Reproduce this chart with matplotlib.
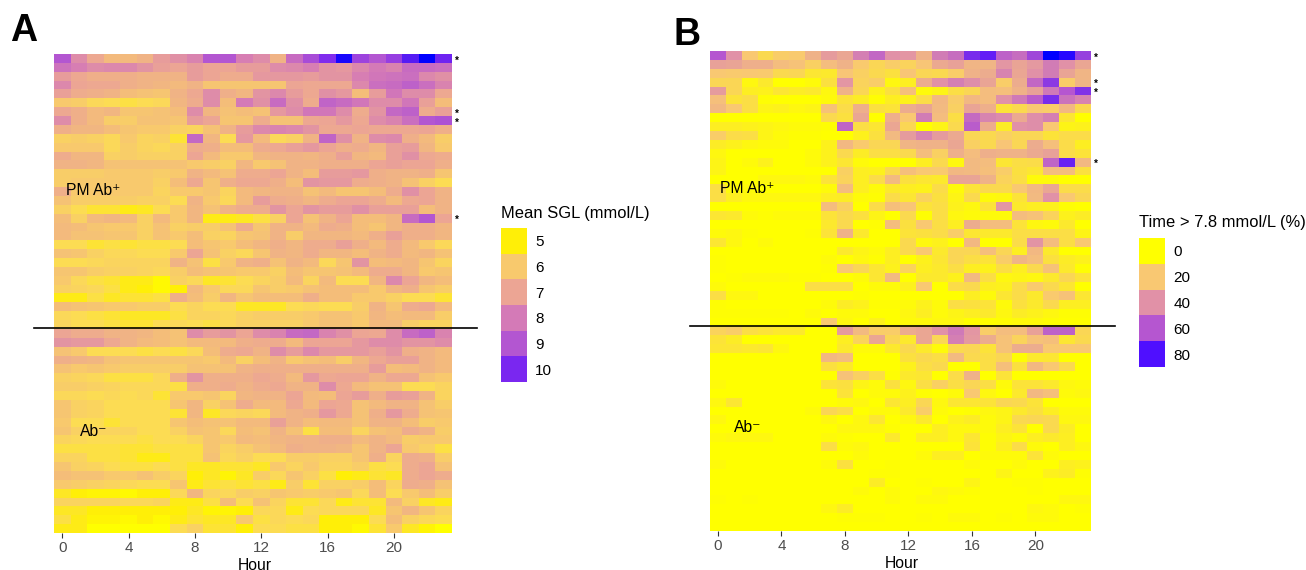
import numpy as np
import matplotlib
matplotlib.use("Agg")
import matplotlib.pyplot as plt
from matplotlib.colors import LinearSegmentedColormap, Normalize
from matplotlib.lines import Line2D

plt.rcParams['font.family'] = ['Liberation Sans', 'DejaVu Sans']

W, H = 1306, 570

hour_ticks = [0, 4, 8, 12, 16, 20]

# panel A, mean SGL, one list per row
sgl_pm = [
    [9, 7.6, 6.9, 6.4, 6.4, 6.6, 7.2, 7.5, 7.8, 9, 9, 7.9, 7.6, 6.6, 8.4, 9.2, 9.9, 10.8, 9.4, 9, 9.5, 10.3, 11, 10.1],
    [8.2, 7.9, 7.6, 7.7, 7.7, 7.4, 7.1, 7, 7.2, 7, 7, 7.2, 7.2, 7.6, 7.7, 7.9, 7.4, 7.3, 7.7, 8, 7.8, 8.4, 8.4, 8.3],
    [7.2, 6.9, 6.7, 6.7, 6.7, 6.6, 6.6, 6.6, 7.2, 7, 6.8, 6.8, 7.3, 7.3, 7.3, 7.2, 7.4, 7.4, 7.9, 8.1, 8.2, 8.3, 7.7, 7.5],
    [7.7, 7, 6.9, 6.9, 6.7, 6.6, 6.5, 6.4, 6.6, 6.1, 6.1, 6.1, 6.1, 6.1, 7, 6.9, 6.9, 6.9, 7.7, 8.3, 8.4, 8.7, 8.3, 7.8],
    [7.1, 6.8, 6.7, 6.6, 6.3, 6.2, 6.1, 6.6, 6.9, 7.6, 6.7, 6.5, 7.4, 7.7, 7.2, 6.9, 7.5, 7.3, 6.3, 7.2, 8.1, 7.6, 7.6, 6.9],
    [6, 5.9, 5.6, 5.5, 5.4, 5.5, 5.6, 6.5, 6.8, 7.6, 6.3, 8, 7.5, 8.4, 7.5, 6.8, 8.6, 8.4, 8.1, 7.6, 7.6, 8.1, 7.1, 6.3],
    [6.9, 6.7, 6.4, 6.5, 6.1, 6.1, 6.2, 6.3, 7.6, 6.5, 6.2, 6.3, 6.2, 7.3, 7.6, 8.1, 8.1, 7.6, 6.8, 7.4, 8.5, 8.7, 6.8, 7.1],
    [7.6, 6.7, 6.4, 5.9, 5.9, 6.2, 6.2, 6.1, 7.2, 7, 6.1, 6.1, 6.8, 6.2, 6.2, 6.9, 7, 7.3, 6.9, 7.6, 7.8, 8.3, 9, 9.1],
    [6.7, 6.5, 6.5, 6.3, 6.1, 6, 6, 5.8, 5.7, 6.2, 6.6, 7.2, 7.7, 7.8, 7.7, 7.4, 6.9, 6.9, 7, 6.9, 6.9, 6.9, 7, 6.7],
    [5.8, 5.9, 5.8, 5.6, 6, 5.7, 5.8, 5.3, 8.5, 6.5, 5.5, 7.3, 6.4, 5.6, 5.8, 6.6, 8.6, 7.5, 6.6, 7.6, 7.7, 6.7, 6.4, 5.9],
    [6, 6, 6, 5.6, 5.9, 5.7, 5.6, 5.8, 6.8, 6.7, 6.3, 6.3, 6.8, 6.9, 7.1, 7.3, 7, 6.7, 6.8, 6.5, 7.1, 7.2, 6.5, 6],
    [6.8, 6.5, 6.5, 5.8, 5.9, 5.8, 5.8, 5.8, 7, 6.4, 6, 6, 6.5, 6.6, 6.6, 6.5, 6.7, 7.1, 6.5, 6.4, 7.1, 7.5, 6.9, 6.8],
    [6.6, 6.6, 6.5, 6.2, 6.2, 6.2, 6.2, 6.2, 6, 5.9, 5.8, 6.5, 6, 6.2, 6.6, 6.6, 6.7, 6.7, 6.7, 7, 7.1, 7, 7, 6.7],
    [5.9, 5.9, 5.9, 6, 6, 6, 5.9, 6, 6.6, 6.4, 6.2, 6.8, 6.8, 7, 6.6, 6.3, 7.2, 7.2, 7.3, 6.7, 6.6, 6.6, 6.7, 6.1],
    [5.9, 6, 6, 6, 6, 6, 5.8, 6.3, 6.9, 6.1, 6.7, 6.9, 6.9, 6.7, 6.3, 7.4, 7.3, 7.3, 6.8, 6.7, 6.6, 6.2, 5.8, 5.5],
    [6.7, 6, 6, 6, 6, 6, 5.7, 6, 6, 6.1, 5.7, 6.4, 6.5, 6.6, 6.6, 6.2, 6.4, 6.1, 6.1, 6.3, 6.8, 7.5, 7, 6.6],
    [6.2, 5.9, 5.9, 5.9, 5.9, 5.8, 5.8, 5.5, 6.6, 6, 5.6, 6.4, 7.2, 6.8, 6.7, 6.5, 6.8, 7, 7, 6.8, 6.4, 6.9, 7, 6.6],
    [5.8, 5.5, 5.3, 5.3, 5.1, 5.2, 5.5, 6, 6.5, 6.2, 6.6, 6.8, 6.8, 7.4, 7, 7.4, 7.2, 7.2, 7.5, 7.1, 7.1, 7.1, 6.3, 6.6],
    [6.3, 5.8, 6.4, 6.5, 6.4, 5.8, 6.4, 6, 6.5, 5.1, 5.1, 5.2, 5.4, 5.8, 7, 6.2, 6.6, 7, 6.3, 6.3, 6.5, 8.4, 9, 7],
    [6.4, 6.3, 6.1, 6, 6, 5.8, 6.2, 5.8, 5.9, 5.9, 6.2, 6.8, 6.1, 6.6, 6.6, 6.4, 6.8, 6.7, 6.3, 6.1, 6.5, 6.7, 6.7, 6.5],
    [6.4, 6.2, 6.2, 6.1, 6.1, 5.8, 6.2, 6, 6.3, 5.8, 5.7, 6.1, 6.2, 6.6, 5.9, 6.5, 6.5, 6.5, 6.4, 6.7, 7.1, 6.7, 6.7, 6.5],
    [5.5, 5.5, 5.3, 5.4, 5.3, 5.4, 5.4, 5.5, 6.3, 6.1, 6, 6.3, 6.5, 6.7, 6.5, 6.8, 6.8, 7.1, 6.7, 6.4, 6.8, 6.4, 6, 5.6],
    [6.2, 6.1, 5.8, 5.6, 5.6, 5.5, 5.5, 6, 7, 6.2, 5.8, 5.6, 6.1, 6.6, 6.5, 6.8, 6.5, 6.5, 6.3, 6.6, 6.8, 6.4, 6.5, 6.2],
    [5.5, 5.5, 5.6, 5.7, 5.7, 5.7, 5.7, 6.6, 6.2, 5.4, 6, 6.6, 6.7, 6.2, 6.6, 6.4, 5.6, 6.1, 7.4, 6.3, 6.4, 6.5, 6.1, 5.7],
    [6.1, 6.1, 5.9, 5.8, 5.8, 5.7, 5.6, 5.9, 6.3, 6.2, 6.1, 6, 6, 5.8, 6.3, 6.1, 6.1, 6.2, 6.4, 6.8, 6.8, 6.5, 6, 6.1],
    [6, 5.6, 5.4, 5.3, 5.1, 5.1, 4.8, 5.8, 5.6, 5.2, 5.3, 5.5, 5.7, 5.9, 6.4, 5.7, 6.4, 5.5, 5.5, 6.5, 7.7, 7, 6.5, 6.3],
    [5.8, 5.7, 5.6, 5.4, 5.1, 5, 4.8, 5, 6.4, 6, 5.6, 5.6, 6.1, 5.9, 6, 6.2, 6.3, 6.3, 6.3, 6, 6.5, 6.7, 6.1, 5.9],
    [5.1, 5.1, 5.4, 5.2, 5.3, 5.3, 5.4, 6.7, 6.3, 5.9, 6.5, 6.1, 6.3, 6.3, 6.3, 6.7, 6.3, 6.3, 6, 6, 5.8, 5.5, 5.5, 5.3],
    [6.3, 6.2, 6.1, 6, 6, 5.9, 5.9, 5.5, 5.7, 5.5, 5.5, 5.2, 5.2, 5.2, 5.5, 5.6, 5.5, 5.5, 5.9, 6.6, 6.1, 6.8, 6.9, 6.4],
    [5.6, 5.5, 5.4, 5.3, 5.2, 5.2, 5.2, 5.4, 5.7, 5.7, 5.6, 5.8, 5.9, 5.9, 5.9, 6, 6.2, 6.2, 6, 6.5, 6.3, 6.4, 6.4, 5.9],
    [5.7, 5.5, 5.5, 5.4, 5.3, 5.3, 5.5, 5.6, 5.5, 5.4, 5.6, 5.8, 5.8, 5.8, 5.8, 6, 6.2, 6.2, 6, 6.4, 6.4, 5.9, 5.7, 5.7],
]
sgl_neg = [
    [7, 6.8, 6.8, 6.6, 6.6, 6.5, 6.3, 6.2, 7.6, 7.2, 7.4, 7, 7.6, 7.8, 8.4, 8.5, 7.8, 7.5, 7, 6.9, 7.6, 8.4, 8.7, 7.8],
    [7.4, 7.3, 7.3, 6.9, 6.6, 6.4, 6.3, 6.2, 6.4, 6.4, 6.4, 6.7, 6.8, 6.8, 6.4, 7, 7, 7, 7.3, 7.6, 7.6, 7.4, 7.4, 7.6],
    [6.2, 6, 5.5, 5.5, 5.5, 5.4, 5.5, 5.4, 5.6, 6.3, 6.8, 6.9, 6.6, 7.6, 7.2, 7.7, 7.3, 7.3, 7.3, 7.1, 7.4, 6.7, 6.6, 6.4],
    [6.7, 6.6, 6.5, 6.2, 6.1, 6.1, 6.1, 6.1, 6.1, 6, 6.4, 5.8, 6.3, 6.6, 6, 6.2, 6.3, 5.9, 6.5, 6.9, 7.1, 7.1, 6.6, 6.4],
    [6.2, 6, 6.1, 6, 5.9, 5.9, 5.9, 5.9, 6.2, 6.2, 6.2, 6.6, 6.7, 6.7, 6.7, 6.7, 6.7, 6.7, 6.7, 7.2, 6.3, 6.4, 6.6, 6.4],
    [5.8, 5.7, 5.6, 5.4, 5.4, 5.4, 5.6, 6.7, 7.4, 6.7, 6.7, 6.7, 6.9, 6.8, 6.4, 7.3, 6.9, 7, 7, 6.6, 6.9, 6.9, 6.2, 6],
    [5.9, 5.9, 5.8, 5.7, 5.6, 5.6, 5.6, 5.4, 6.7, 6.7, 6.8, 6.6, 6.8, 6.9, 6.6, 6.6, 7.6, 6.9, 6.4, 6.2, 6.2, 5.5, 5.5, 5.7],
    [5.6, 5.6, 5.5, 5.6, 5.5, 5.6, 5.3, 6, 6, 6.1, 5.7, 6.5, 6.6, 6.6, 7, 6.4, 6.3, 7, 7.2, 6.7, 7.2, 7.1, 6.6, 5.7],
    [6.1, 5.8, 5.7, 5.5, 5.5, 5.5, 5.5, 6.1, 6.5, 5.8, 6.2, 6.8, 6.4, 6.4, 6.9, 6.4, 7, 6.9, 6.2, 6.4, 6.6, 6.6, 6.2, 5.9],
    [6.1, 5.8, 5.7, 5.5, 5.5, 5.5, 5.5, 5.3, 6.5, 5.2, 5.6, 5.7, 5.6, 6.4, 6.6, 6.7, 7.3, 6.9, 6.2, 6.7, 7.3, 6.8, 6.2, 6.1],
    [6, 5.5, 5.5, 5.3, 5.5, 5.5, 5.5, 6.1, 6.3, 6.2, 6.2, 6.4, 6.4, 7.1, 6.6, 6.3, 6.4, 6.4, 6.2, 6.6, 6.6, 6.3, 5.9, 6],
    [6.1, 5.8, 5.7, 5.7, 5.7, 5.5, 5.5, 5.8, 6.2, 6.1, 5.6, 6.3, 6.2, 6.6, 6.2, 5.4, 6.3, 6.3, 5.7, 6.2, 6.3, 6.8, 6.6, 5.9],
    [5.7, 5.6, 5.5, 5.5, 5.5, 5.4, 5.5, 5.5, 5.7, 6.1, 6, 6.4, 6.3, 6.5, 6.6, 6.6, 6.7, 6.7, 6.4, 6.6, 6.4, 5.9, 6, 6],
    [5.4, 5.4, 5.4, 5.4, 5.3, 5.3, 5.4, 5.4, 5.4, 6.1, 5.7, 5.9, 6.2, 6.4, 6.7, 6.6, 6.6, 6.5, 6.1, 6.6, 7, 6, 5.8, 5.4],
    [5.7, 5.7, 5.4, 5.4, 5.3, 5.1, 5.1, 5.4, 5.4, 6.2, 5.6, 5.8, 5.5, 5.5, 5.9, 5.9, 5.8, 5.8, 6.1, 6.7, 5.7, 6.8, 6.7, 5.9],
    [6.1, 5.8, 5.7, 5.5, 5.4, 5.4, 5.5, 5.4, 5.2, 5.2, 5.3, 5.3, 5.2, 6, 5.7, 6, 5.7, 5.7, 5.9, 5.4, 5.5, 6.8, 7, 6.2],
    [6.3, 6.2, 6.2, 6, 6, 6.2, 5.9, 5.7, 5, 5.2, 4.9, 5.2, 5.9, 5.6, 6.1, 5.8, 5.4, 5, 5.1, 5.3, 5.2, 6.8, 7, 6.8],
    [6, 5.9, 5.8, 5.7, 5.6, 5.5, 5.5, 6.1, 5.1, 5.3, 5.4, 5.3, 5.4, 5.1, 5.9, 5.3, 5.8, 5.8, 5.9, 6.3, 5.7, 6.8, 6.7, 6.2],
    [5.2, 5, 4.9, 4.9, 4.8, 5, 5, 5.6, 6.5, 5.7, 5.6, 5.9, 5.8, 6.1, 6, 5.9, 6, 6.1, 5.6, 6.3, 5.5, 6, 6.3, 5.9],
    [5.7, 5.7, 5.7, 5.7, 5.6, 5.6, 5.7, 5.1, 5.1, 5.4, 6.3, 5.5, 6.2, 5.7, 5.3, 5.3, 5.6, 5.1, 5.3, 5.3, 6.4, 5.8, 5.2, 5.1],
    [5.2, 5.2, 5, 5, 5, 5, 5, 5, 5.2, 4.9, 4.9, 5, 5.6, 5.6, 5.1, 5.5, 5.6, 5.6, 5.6, 5.2, 6.1, 6.5, 6.1, 5.7],
    [5.4, 5.1, 4.9, 4.9, 4.8, 5, 4.8, 5.1, 5.3, 5.2, 5.2, 6, 5.4, 5.6, 5.5, 5.6, 5, 5, 5, 5.5, 6.3, 5.8, 5.6, 5.5],
    [5.1, 5.1, 4.7, 4.7, 4.7, 4.7, 4.7, 5.5, 5.8, 5.3, 5.3, 5, 5.5, 5.5, 5.4, 5.4, 5, 5, 4.8, 5.3, 6, 5.2, 4.9, 4.7],
]

# panel B, time above 7.8 mmol/L, one list per row
time_pm = [
    [60, 40, 20, 14, 18, 19, 28, 36, 32, 46, 54, 40, 38, 28, 47, 52, 72, 76, 56, 52, 64, 90, 85, 66],
    [34, 33, 29, 29, 24, 22, 17, 24, 28, 19, 15, 18, 16, 21, 31, 34, 27, 27, 38, 33, 37, 47, 40, 32],
    [20, 19, 20, 19, 14, 15, 9, 8, 21, 17, 14, 11, 21, 15, 14, 18, 28, 30, 44, 32, 40, 47, 33, 27],
    [15, 15, 3, 8, 0, 0, 2, 11, 38, 16, 18, 3, 6, 30, 40, 46, 41, 33, 18, 30, 54, 68, 18, 27],
    [36, 15, 6, 5, 9, 7, 8, 3, 28, 15, 5, 11, 23, 2, 4, 12, 15, 24, 23, 28, 34, 48, 60, 70],
    [23, 10, 12, 1, 0, 0, 0, 2, 10, 7, 1, 6, 5, 13, 26, 18, 26, 24, 40, 48, 58, 72, 50, 44],
    [26, 20, 12, 4, 5, 3, 4, 22, 13, 29, 11, 10, 30, 33, 25, 17, 33, 29, 10, 14, 20, 18, 26, 14],
    [0, 0, 0, 0, 0, 0, 0, 14, 11, 32, 0, 29, 20, 47, 24, 12, 53, 44, 42, 31, 41, 46, 9, 0],
    [6, 6, 5, 4, 3, 2, 2, 1, 55, 12, 9, 32, 15, 0, 4, 14, 58, 30, 7, 40, 41, 20, 4, 5],
    [18, 13, 12, 4, 2, 1, 1, 0, 0, 5, 11, 25, 36, 44, 36, 31, 15, 14, 17, 15, 15, 10, 13, 13],
    [7, 5, 3, 2, 2, 0, 0, 5, 26, 19, 15, 15, 27, 28, 28, 32, 17, 14, 21, 15, 30, 23, 13, 6],
    [3, 0, 0, 0, 0, 0, 2, 5, 14, 7, 12, 12, 14, 24, 17, 29, 24, 29, 28, 28, 31, 34, 13, 10],
    [4, 0, 2, 5, 0, 0, 2, 5, 9, 2, 0, 0, 0, 6, 14, 3, 25, 24, 9, 12, 13, 55, 75, 26],
    [4, 0, 0, 0, 0, 0, 0, 0, 17, 6, 5, 14, 23, 20, 19, 26, 25, 23, 18, 11, 9, 24, 24, 11],
    [0, 0, 0, 3, 3, 3, 2, 10, 16, 6, 13, 25, 11, 9, 8, 33, 33, 28, 16, 12, 2, 2, 0, 0],
    [12, 2, 2, 0, 0, 0, 0, 2, 24, 6, 2, 8, 6, 5, 13, 2, 10, 14, 14, 20, 26, 32, 13, 13],
    [12, 6, 3, 3, 3, 3, 3, 6, 7, 2, 1, 13, 9, 16, 11, 4, 14, 2, 3, 10, 25, 40, 20, 15],
    [0, 0, 0, 0, 0, 0, 0, 24, 17, 0, 13, 23, 21, 10, 12, 5, 3, 10, 38, 8, 6, 5, 1, 0],
    [9, 8, 2, 1, 2, 2, 2, 10, 14, 11, 4, 0, 14, 1, 12, 3, 2, 2, 2, 24, 22, 16, 5, 7],
    [0, 0, 0, 0, 0, 0, 0, 8, 14, 0, 1, 24, 11, 20, 12, 6, 30, 24, 24, 10, 3, 2, 8, 0],
    [2, 3, 1, 0, 0, 0, 1, 10, 28, 8, 0, 0, 10, 11, 13, 18, 9, 8, 8, 12, 12, 12, 12, 4],
    [9, 3, 0, 2, 0, 0, 0, 0, 0, 0, 0, 0, 14, 3, 5, 0, 26, 0, 0, 13, 39, 24, 12, 20],
    [0, 0, 0, 0, 0, 0, 0, 0, 8, 4, 2, 6, 14, 20, 8, 15, 15, 23, 15, 6, 26, 8, 0, 0],
    [1, 0, 0, 0, 0, 0, 0, 2, 0, 3, 1, 6, 0, 5, 9, 15, 12, 10, 18, 27, 24, 11, 7, 5],
    [1, 0, 0, 0, 0, 0, 0, 1, 20, 15, 9, 5, 16, 6, 8, 12, 6, 5, 12, 6, 14, 22, 8, 1],
    [0, 1, 2, 2, 2, 1, 1, 0, 0, 2, 9, 25, 0, 8, 8, 5, 25, 12, 3, 4, 3, 8, 15, 10],
    [2, 0, 0, 0, 0, 0, 12, 12, 12, 0, 2, 2, 5, 20, 0, 13, 14, 6, 5, 13, 19, 14, 9, 0],
    [12, 3, 3, 0, 0, 0, 0, 0, 0, 1, 0, 0, 0, 0, 0, 0, 6, 2, 9, 13, 8, 19, 22, 9],
    [1, 0, 0, 0, 0, 0, 0, 2, 7, 5, 1, 1, 2, 5, 2, 12, 11, 10, 2, 11, 8, 14, 6, 6],
    [1, 1, 1, 1, 1, 0, 2, 0, 2, 2, 0, 0, 3, 6, 2, 4, 6, 8, 3, 7, 5, 3, 1, 1],
    [0, 0, 0, 0, 0, 0, 0, 20, 3, 0, 5, 0, 2, 2, 3, 3, 0, 0, 1, 2, 2, 1, 0, 0],
]
time_neg = [
    [16, 18, 12, 10, 8, 8, 0, 0, 36, 25, 18, 18, 30, 32, 40, 48, 38, 18, 24, 24, 34, 56, 56, 15],
    [10, 7, 0, 0, 0, 0, 0, 0, 6, 16, 32, 15, 8, 32, 15, 46, 37, 30, 22, 16, 22, 23, 9, 14],
    [9, 9, 8, 9, 3, 0, 0, 0, 8, 2, 2, 8, 14, 8, 2, 14, 15, 10, 22, 30, 30, 20, 20, 20],
    [0, 0, 0, 0, 0, 0, 0, 26, 24, 0, 0, 0, 11, 14, 12, 25, 14, 12, 15, 1, 8, 9, 0, 0],
    [0, 0, 0, 0, 0, 0, 0, 11, 8, 0, 0, 0, 5, 12, 14, 0, 0, 12, 23, 11, 26, 20, 14, 0],
    [0, 0, 0, 0, 0, 0, 0, 0, 22, 17, 12, 1, 8, 9, 0, 13, 28, 0, 10, 0, 0, 0, 0, 0],
    [2, 0, 0, 0, 0, 0, 0, 10, 11, 4, 2, 11, 3, 12, 17, 12, 15, 12, 2, 10, 10, 8, 3, 2],
    [0, 0, 0, 0, 0, 0, 0, 0, 10, 0, 2, 2, 5, 1, 0, 2, 20, 3, 0, 8, 26, 23, 2, 3],
    [3, 9, 0, 0, 0, 0, 0, 0, 2, 3, 0, 9, 6, 15, 3, 9, 9, 10, 15, 14, 10, 0, 0, 0],
    [0, 0, 0, 0, 0, 0, 2, 15, 12, 0, 2, 2, 8, 18, 2, 0, 1, 3, 4, 8, 11, 6, 2, 2],
    [3, 0, 0, 0, 0, 0, 0, 3, 0, 3, 9, 0, 3, 8, 0, 5, 7, 2, 4, 14, 15, 14, 3, 3],
    [0, 0, 0, 0, 0, 0, 0, 0, 3, 3, 3, 1, 0, 0, 6, 3, 3, 2, 6, 10, 0, 14, 7, 0],
    [2, 3, 3, 3, 0, 0, 0, 2, 1, 0, 0, 8, 0, 6, 6, 3, 9, 1, 4, 2, 6, 8, 6, 0],
    [0, 0, 0, 0, 0, 0, 0, 12, 2, 3, 0, 0, 0, 0, 0, 0, 10, 1, 6, 13, 2, 0, 6, 3],
    [0, 0, 0, 0, 0, 0, 0, 0, 0, 2, 0, 0, 0, 2, 6, 6, 0, 2, 2, 2, 10, 2, 0, 0],
    [2, 0, 0, 0, 0, 0, 0, 2, 11, 0, 0, 1, 0, 0, 0, 0, 2, 0, 0, 2, 0, 0, 6, 5],
    [0, 0, 0, 0, 0, 0, 0, 0, 0, 0, 1, 1, 0, 0, 0, 0, 0, 0, 4, 0, 0, 5, 7, 1],
    [0, 0, 0, 0, 0, 0, 0, 0, 0, 0, 7, 0, 0, 1, 0, 0, 4, 0, 0, 1, 1, 0, 0, 0],
    [0, 0, 0, 0, 0, 0, 0, 0, 0, 2, 0, 2, 0, 0, 3, 2, 1, 0, 0, 0, 1, 0, 0, 0],
    [1, 0, 1, 0, 0, 0, 0, 0, 0, 0, 0, 2, 0, 2, 2, 0, 0, 0, 0, 0, 0, 0, 3, 3],
    [0, 0, 0, 0, 0, 0, 0, 3, 7, 0, 0, 0, 0, 0, 0, 0, 0, 0, 0, 0, 3, 2, 0, 1],
    [0, 0, 0, 0, 0, 0, 0, 0, 1, 1, 1, 0, 0, 1, 0, 2, 2, 0, 1, 0, 2, 2, 0, 0],
    [0, 0, 0, 0, 0, 0, 0, 0, 0, 0, 0, 0, 0, 0, 0, 0, 0, 0, 0, 0, 0, 0, 0, 0],
]

sgl_breaks = [5, 6, 7, 8, 9, 10]
time_breaks = [0, 20, 40, 60, 80]
sgl_star_rows = [0, 6, 7, 18]
time_star_rows = [0, 3, 4, 12]

sgl_stops = [(4.7, '#FFFF00'), (5, '#FFEF08'), (5.5, '#FCDC55'), (6, '#F8C96E'), (7, '#ECA595'), (8, '#D57BB7'),
             (9, '#B356D2'), (10, '#7C28F0'), (11, '#0000FF')]
time_stops = [(0, '#FFFF00'), (20, '#F9C874'), (40, '#E191A8'), (60, '#B556D0'), (80, '#5010FF'), (90, '#0000FF')]


def make_cmap(stops):
    lo, hi = stops[0][0], stops[-1][0]
    cmap = LinearSegmentedColormap.from_list('sc', [((v - lo) / (hi - lo), c) for v, c in stops])
    return cmap, Normalize(lo, hi)


def px_axes(fig, x0, y0, x1, y1):
    # pixel box measured from the top left corner of the image
    return fig.add_axes([x0 / W, 1 - y1 / H, (x1 - x0) / W, (y1 - y0) / H])


def heat(fig, box, rows, stops, star_rows, star_px, hour_x, hour_y):
    cmap, norm = make_cmap(stops)
    ax = px_axes(fig, *box)
    ax.imshow(np.array(rows), cmap=cmap, norm=norm, aspect='auto', interpolation='nearest')
    for s in ax.spines.values():
        s.set_visible(False)
    ax.set_yticks([])
    ax.set_xticks(hour_ticks)
    ax.tick_params(axis='x', length=3.5, width=0.8, color='#333333', labelcolor='#4D4D4D', labelsize=11, pad=2.5)
    fig.text(hour_x / W, 1 - hour_y / H, 'Hour', ha='center', va='center', fontsize=11.3, color='black')
    # small bold stars, pushed down a little because the glyph sits high in its line
    for r in star_rows:
        ax.annotate('*', xy=(star_px, r), xycoords=ax.get_yaxis_transform(), xytext=(0, -1.5),
                    textcoords='offset points', ha='center', va='center', fontsize=7, fontweight='bold',
                    annotation_clip=False)
    return ax


def legend(fig, x0, y0, x1, y1, breaks, stops, title, title_y):
    cmap, norm = make_cmap(stops)
    ax = px_axes(fig, x0, y0, x1, y1)
    ax.imshow(np.array(breaks).reshape(-1, 1), cmap=cmap, norm=norm, aspect='auto', interpolation='nearest')
    for s in ax.spines.values():
        s.set_visible(False)
    ax.set_xticks([])
    ax.yaxis.tick_right()
    ax.set_yticks(range(len(breaks)))
    ax.set_yticklabels(breaks)
    ax.tick_params(axis='y', length=0, pad=6, labelsize=11, labelcolor='black')
    fig.text(x0 / W, 1 - title_y / H, title, ha='left', va='center', fontsize=11.9, color='black')


fig = plt.figure(figsize=(W / 100, H / 100), dpi=100, facecolor='white')

heat(fig, (54, 54, 452, 533), sgl_pm + sgl_neg, sgl_stops, sgl_star_rows, 1.0125, 255, 565)
heat(fig, (710, 51, 1091, 531), time_pm + time_neg, time_stops, time_star_rows, 1.013, 902, 563)

legend(fig, 501, 228, 527, 382, sgl_breaks, sgl_stops, 'Mean SGL (mmol/L)', 213)
legend(fig, 1139, 238, 1165, 367, time_breaks, time_stops, 'Time > 7.8 mmol/L (%)', 222)

# cut lines between the two groups
for x0, x1, y in [(34, 477, 328), (690, 1115, 326)]:
    fig.add_artist(Line2D([x0 / W, x1 / W], [1 - y / H, 1 - y / H], color='black', lw=1.2))

fig.text(10 / W, 1 - 41 / H, 'A', fontsize=27, fontweight='bold', ha='left', va='baseline')
fig.text(674 / W, 1 - 45 / H, 'B', fontsize=27, fontweight='bold', ha='left', va='baseline')

for x, y, s in [(66, 191, 'PM Ab\u207a'), (80, 431, 'Ab\u207b'), (720, 189, 'PM Ab\u207a'), (734, 428, 'Ab\u207b')]:
    fig.text(x / W, 1 - y / H, s, fontsize=11.3, ha='left', va='center', color='black')

fig.savefig('out.png', dpi=100)
